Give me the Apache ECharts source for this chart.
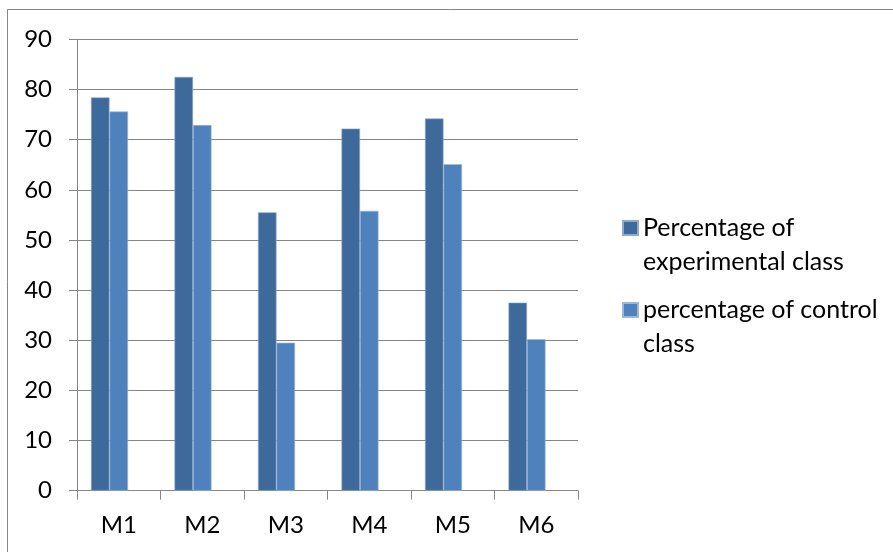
<!DOCTYPE html>
<html>
<head>
<meta charset="utf-8">
<script src="https://cdn.jsdelivr.net/npm/echarts@6/dist/echarts.min.js"></script>
<style>
  html, body { margin: 0; padding: 0; background: #ffffff; }
  #chart { width: 893px; height: 552px; }
</style>
</head>
<body>
<div id="chart"></div>
<script>
// Module categories
const categories = ['M1', 'M2', 'M3', 'M4', 'M5', 'M6'];
// Percentages per module
const experimental = [78.4, 82.5, 55.5, 72.2, 74.2, 37.5];
const control = [75.6, 72.9, 29.5, 55.8, 65.1, 30.2];
// Series names
const seriesNames = ['Percentage of\nexperimental class', 'percentage of control\nclass'];
// Value axis ticks
const yMin = 0, yMax = 90, yStep = 10;

const FONT = 'Lato';
const GRID_GRAY = '#868686';
const LINE_H = 34;

// Legend marker: a square beside the first of two text lines; the two
// zero-length moves stretch the path's bounds to the full two-line height.
const legendIcon = 'path://M0,10H15V24H0Z M0,0L0,0 M0,' + (2 * LINE_H) + 'L0,' + (2 * LINE_H);

const chart = echarts.init(document.getElementById('chart'), null, { renderer: 'canvas' });

chart.setOption({
  backgroundColor: '#ffffff',
  animation: false,
  textStyle: { fontFamily: FONT },
  graphic: [{
    // chart-area frame (top and left edges show inside the canvas)
    type: 'rect',
    silent: true,
    shape: { x: 7.5, y: 9.5, width: 960, height: 640 },
    style: { fill: 'none', stroke: GRID_GRAY, lineWidth: 1 }
  }],
  grid: { left: 77, right: 315, top: 39.3, bottom: 61.3, containLabel: false },
  legend: {
    orient: 'vertical',
    left: 617,
    top: 205,
    padding: 5,
    data: seriesNames,
    itemWidth: 15,
    itemHeight: 2 * LINE_H,
    itemGap: 12,
    icon: legendIcon,
    selectedMode: false,
    textStyle: {
      fontFamily: FONT,
      fontSize: 25,
      color: '#000000',
      lineHeight: LINE_H
    }
  },
  xAxis: {
    type: 'category',
    data: categories,
    axisLine: { lineStyle: { color: GRID_GRAY, width: 1 } },
    axisTick: { show: true, length: 9, lineStyle: { color: GRID_GRAY } },
    axisLabel: { color: '#000000', fontFamily: FONT, fontSize: 24, margin: 23 },
    splitLine: { show: false }
  },
  yAxis: {
    type: 'value',
    min: yMin,
    max: yMax,
    interval: yStep,
    axisLine: { show: true, lineStyle: { color: GRID_GRAY, width: 1 } },
    axisTick: { show: true, length: 8, lineStyle: { color: GRID_GRAY } },
    axisLabel: { color: '#000000', fontFamily: FONT, fontSize: 24, margin: 25 },
    splitLine: { show: true, lineStyle: { color: GRID_GRAY, width: 1 } }
  },
  series: [
    {
      name: seriesNames[0],
      type: 'bar',
      data: experimental,
      barGap: '0%',
      barCategoryGap: '33.5%',
      itemStyle: { color: '#3E6A9B', borderColor: '#8FAACC', borderWidth: 0.6 }
    },
    {
      name: seriesNames[1],
      type: 'bar',
      data: control,
      barGap: '0%',
      barCategoryGap: '33.5%',
      itemStyle: { color: '#4F81BD', borderColor: '#9DB7D9', borderWidth: 0.6 }
    },
    {
      // empty third slot of the three-wide cluster
      name: 'empty',
      type: 'bar',
      data: [],
      barGap: '0%',
      barCategoryGap: '33.5%'
    }
  ]
});
</script>
</body>
</html>
